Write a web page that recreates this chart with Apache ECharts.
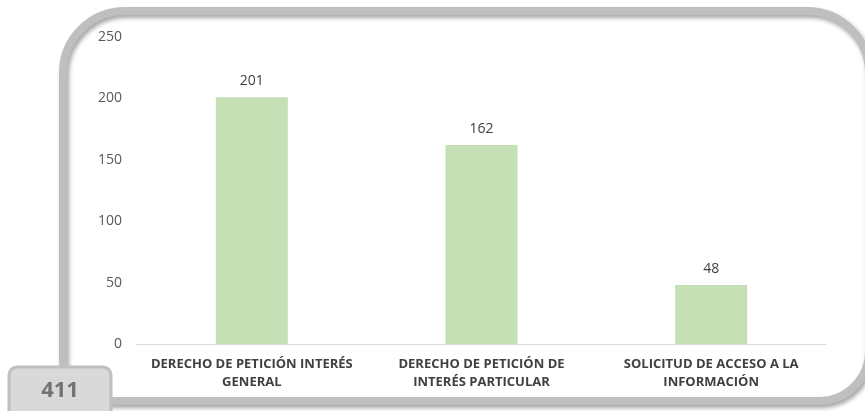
<!DOCTYPE html>
<html>
<head>
<meta charset="utf-8">
<script src="https://cdn.jsdelivr.net/npm/echarts@6/dist/echarts.min.js"></script>
<style>
  html, body { margin: 0; padding: 0; background: #fff; }
  #chart { width: 865px; height: 411px; }
</style>
</head>
<body>
<div id="chart"></div>
<script>
  const categories = [
    'DERECHO DE PETICIÓN INTERÉS\nGENERAL',
    'DERECHO DE PETICIÓN DE\nINTERÉS PARTICULAR',
    'SOLICITUD DE ACCESO A LA\nINFORMACIÓN'
  ]
  const values = [201, 162, 48]
  const totalLabel = '411'

  let chart = echarts.init(document.getElementById('chart'))
  chart.setOption({
    animation: false,
    textStyle: {fontFamily: 'Open Sans'},
    grid: {left: 137, right: 39, top: 37, bottom: 67},
    xAxis: {
      type: 'category',
      data: categories,
      axisLine: {lineStyle: {color: '#d9d9d9'}},
      axisTick: {show: false},
      axisLabel: {
        interval: 0,
        margin: 11,
        color: '#404040',
        fontWeight: 'bold',
        fontSize: 13,
        lineHeight: 18
      }
    },
    yAxis: {
      type: 'value',
      min: 0, max: 250, interval: 50,
      splitLine: {show: false},
      axisLine: {show: false},
      axisTick: {show: false},
      axisLabel: {color: '#595959', fontSize: 14, margin: 15}
    },
    series: [{
      type: 'bar',
      data: values,
      barWidth: 72,
      itemStyle: {color: '#c5e0b4'},
      label: {show: true, position: 'top', distance: 9, color: '#404040', fontSize: 14}
    }],
    graphic: [
      {
        type: 'rect',
        z: 100,
        shape: {x: 63, y: 11, width: 806, height: 390, r: [62, 62, 50, 40]},
        style: {
          fill: 'none', stroke: '#bfbfbf', lineWidth: 8,
          shadowColor: 'rgba(0,0,0,0.35)', shadowBlur: 4, shadowOffsetX: 2, shadowOffsetY: 3
        }
      },
      {
        type: 'rect',
        z: 110,
        shape: {x: 9, y: 367, width: 102, height: 52, r: 8},
        style: {fill: '#d9d9d9', stroke: '#bfbfbf', lineWidth: 3}
      },
      {
        type: 'text',
        z: 111,
        x: 60, y: 391,
        style: {
          text: totalLabel, fill: '#737373', font: 'bold 22px "Open Sans"',
          align: 'center', verticalAlign: 'middle'
        }
      }
    ]
  })
</script>
</body>
</html>
